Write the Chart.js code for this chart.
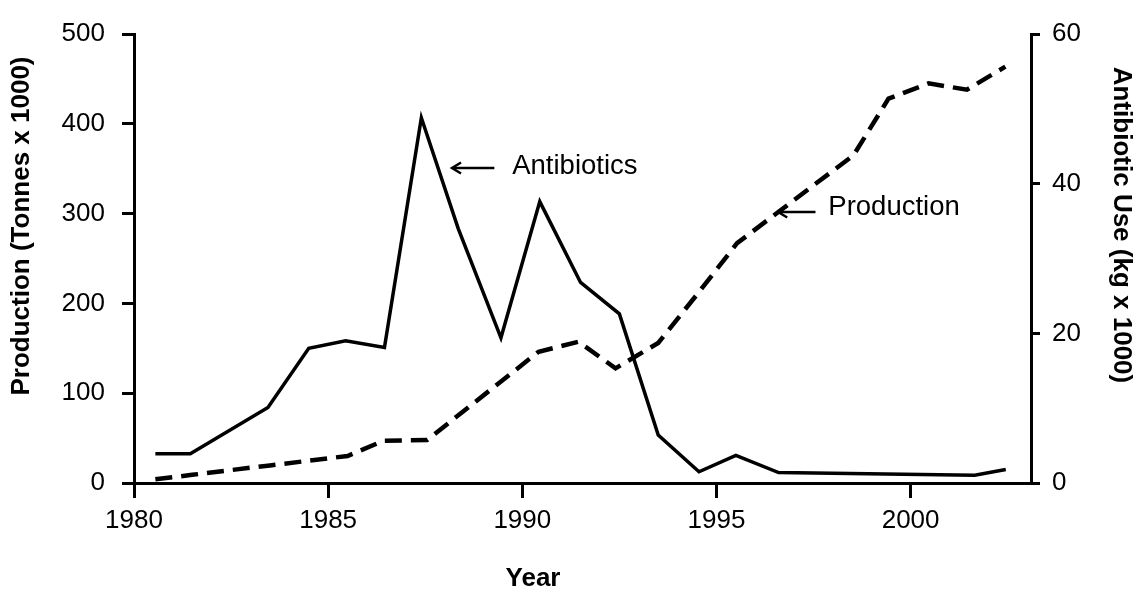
<!DOCTYPE html>
<html><head><meta charset="utf-8">
<script src="https://cdn.jsdelivr.net/npm/chart.js@4/dist/chart.umd.min.js"></script>
<style>html,body{margin:0;padding:0;background:#fff}canvas{display:block}</style>
</head><body>
<canvas id="c" width="1137" height="590"></canvas>
<script>
// ---- data ----
const antibioticYears = [1980.55,1981.45,1983.45,1984.5,1985.45,1986.45,1987.4,1988.35,1989.45,1990.45,1991.5,1992.5,1993.5,1994.55,1995.5,1996.6,2001.65,2002.45];
const antibioticUse   = [3.9,3.9,10.1,18.0,19.0,18.1,48.8,34.0,19.4,37.6,26.8,22.6,6.4,1.5,3.7,1.4,1.05,1.8];
const productionYears = [1980.55,1981.5,1982.5,1983.5,1984.5,1985.5,1986.43,1987.55,1988.5,1989.5,1990.42,1991.45,1992.4,1993.5,1994.5,1995.53,1996.6,1997.5,1998.53,1999.43,2000.46,2001.45,2002.44];
const production      = [4.1,9.1,14.4,19.6,24.8,30.1,47.1,47.9,80.5,114.7,146.2,157.3,127.7,156,210,267,302,331.5,365,428,445,438,463.6];
const xTicks     = [1980,1985,1990,1995,2000];
const leftTicks  = [0,100,200,300,400,500];
const rightTicks = [0,20,40,60];
const xTitle = 'Year';
const leftTitle = 'Production (Tonnes x 1000)';
const rightTitle = 'Antibiotic Use (kg x 1000)';
const noteLabels = ['Antibiotics','Production'];

// annotation placement (data coordinates: year, left-axis value)
const notes = [
  {text: noteLabels[0], tx: 1989.74, ty: 353, ay: 350.8, from: 1989.28, to: 1988.19},
  {text: noteLabels[1], tx: 1997.88, ty: 307, ay: 301.8, from: 1997.55, to: 1996.59}
];

const FAM = '"Liberation Sans", Arial, Helvetica, sans-serif';

const overlay = {
  id: 'overlay',
  afterDraw(chart) {
    const ctx = chart.ctx, x = chart.scales.x, y = chart.scales.y;
    ctx.save();
    ctx.fillStyle = '#000';
    ctx.strokeStyle = '#000';
    // axis titles
    ctx.font = 'bold 26px ' + FAM;
    ctx.textAlign = 'center';
    ctx.textBaseline = 'middle';
    ctx.fillText(xTitle, 533, 579);
    ctx.save(); ctx.translate(22, 226); ctx.rotate(-Math.PI/2); ctx.fillText(leftTitle, 0, 0); ctx.restore();
    ctx.save(); ctx.translate(1121, 225); ctx.rotate(Math.PI/2); ctx.fillText(rightTitle, 0, 0); ctx.restore();
    // annotations
    ctx.font = '27.5px ' + FAM;
    ctx.textAlign = 'left';
    notes.forEach(n => {
      ctx.fillText(n.text, x.getPixelForValue(n.tx), y.getPixelForValue(n.ty));
      const x0 = x.getPixelForValue(n.from), x1 = x.getPixelForValue(n.to), yy = y.getPixelForValue(n.ay);
      ctx.lineWidth = 2.5;
      ctx.beginPath(); ctx.moveTo(x0, yy); ctx.lineTo(x1, yy); ctx.stroke();
      ctx.beginPath(); ctx.moveTo(x1 + 9, yy - 5.5); ctx.lineTo(x1, yy); ctx.lineTo(x1 + 9, yy + 5.5); ctx.stroke();
    });
    ctx.restore();
  }
};

const axisGrid = (len) => ({display: true, drawOnChartArea: false, drawTicks: true, tickLength: len, tickWidth: 3, tickColor: '#000', color: '#000', lineWidth: 3});
const axisBorder = {display: true, color: '#000', width: 3};
const tickFont = {family: FAM, size: 26};

new Chart(document.getElementById('c'), {
  type: 'line',
  data: {
    datasets: [
      {
        label: noteLabels[0],
        data: antibioticYears.map((v, i) => ({x: v, y: antibioticUse[i]})),
        yAxisID: 'y1',
        borderColor: '#000', borderWidth: 3.5, pointRadius: 0, fill: false, tension: 0,
        borderJoinStyle: 'miter'
      },
      {
        label: noteLabels[1],
        data: productionYears.map((v, i) => ({x: v, y: production[i]})),
        yAxisID: 'y',
        borderColor: '#000', borderWidth: 4.5, borderDash: [17, 9], pointRadius: 0, fill: false, tension: 0
      }
    ]
  },
  options: {
    responsive: false,
    animation: false,
    devicePixelRatio: 1,
    layout: {padding: {top: 34, left: 0, right: 0, bottom: 0}},
    plugins: {legend: {display: false}, tooltip: {enabled: false}},
    scales: {
      x: {
        type: 'linear', position: 'bottom', min: 1980, max: 2003.1,
        afterBuildTicks: s => { s.ticks = xTicks.map(v => ({value: v})); },
        afterFit: s => { s.height = 107; },
        grid: axisGrid(15), border: axisBorder,
        ticks: {color: '#000', font: tickFont, padding: 7, maxRotation: 0, autoSkip: false, callback: v => String(v)}
      },
      y: {
        type: 'linear', position: 'left', min: 0, max: 500,
        afterBuildTicks: s => { s.ticks = leftTicks.map(v => ({value: v})); },
        afterFit: s => { s.width = 134; },
        grid: axisGrid(12), border: axisBorder,
        ticks: {color: '#000', font: tickFont, padding: 17, callback: v => String(v)}
      },
      y1: {
        type: 'linear', position: 'right', min: 0, max: 60,
        afterBuildTicks: s => { s.ticks = rightTicks.map(v => ({value: v})); },
        afterFit: s => { s.width = 106; },
        grid: axisGrid(9), border: axisBorder,
        ticks: {color: '#000', font: tickFont, padding: 12, callback: v => String(v)}
      }
    }
  },
  plugins: [overlay]
});
</script>
</body></html>
